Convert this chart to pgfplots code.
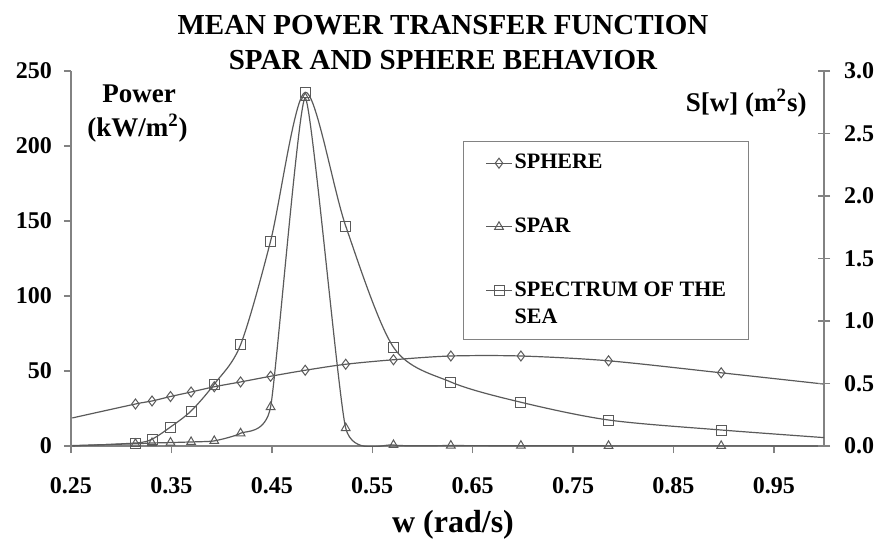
\documentclass[border=0pt]{standalone}
\usepackage{fontspec}
\setmainfont{Liberation Serif}
\usepackage{pgfplots}
\usepackage{pgfplotstable}
\pgfplotsset{compat=1.18}

\definecolor{axgray}{RGB}{130,130,130}
\definecolor{lngray}{RGB}{90,90,90}

% w = 2*pi/T, left axis: power (kW/m2)
\pgfplotstableread{
w     P
0.2513 18.7
0.3142 28.0
0.3307 30.0
0.3491 33.0
0.3696 36.0
0.3927 39.5
0.4189 42.7
0.4488 46.5
0.4833 50.5
0.5236 54.5
0.5712 57.5
0.6283 60.0
0.6981 60.0
0.7854 56.8
0.8976 48.8
1.0472 37.8
}\sphere

\pgfplotstableread{
w     P
0.2513 0.3
0.3142 1.5
0.3307 2.0
0.3491 2.3
0.3696 2.7
0.3927 3.4
0.4189 8.5
0.4488 26
0.4833 232
0.5236 12
0.5712 0.7
0.6283 0.3
0.6981 0.2
0.7854 0.1
0.8976 0.1
1.0472 0.0
}\spar

% right axis: S[w] (m2 s)
\pgfplotstableread{
w     S
0.2513 0.000
0.3142 0.024
0.3307 0.055
0.3491 0.152
0.3696 0.280
0.3927 0.495
0.4189 0.810
0.4488 1.640
0.4833 2.830
0.5236 1.760
0.5712 0.790
0.6283 0.512
0.6981 0.350
0.7854 0.208
0.8976 0.128
1.0472 0.040
}\spectrum

\pgfplotsset{
  base/.style={
    scale only axis, width=376.5pt, height=187.5pt,
    xmin=0.25, xmax=1.0,
    axis line style={axgray, line width=0.7pt},
    tick style={axgray, line width=0.7pt},
    ticklabel style={font=\bfseries\fontsize{12}{14}\selectfont},
    /pgf/number format/assume math mode=true,
    clip mode=individual,
  },
  sphst/.style={lngray, line width=0.6pt, mark=diamond, mark size=2.5pt, mark options={solid, line width=0.5pt}},
  sparst/.style={lngray, line width=0.6pt, mark=triangle, mark size=2.5pt, mark options={solid, line width=0.5pt}},
  specst/.style={lngray, line width=0.6pt, mark=square, mark size=2.5pt, mark options={solid, line width=0.5pt}},
}

\begin{document}
\begin{tikzpicture}
\useasboundingbox (-35.5pt,-47.5pt) rectangle (405.5pt,223pt);

\begin{axis}[
  base,
  ymin=0, ymax=250,
  axis x line*=bottom, axis y line*=left,
  tick align=outside, major tick length=3.5pt,
  xtick={0.25,0.35,0.45,0.55,0.65,0.75,0.85,0.95},
  ytick={0,50,100,150,200,250},
  xticklabel style={yshift=-8.5pt, /pgf/number format/.cd, fixed, fixed zerofill, precision=2},
  yticklabel style={xshift=-2.5pt},
  minor tick num=0,
]
\addplot[sphst, smooth, mark indices={2,...,15}] table[x=w, y=P] {\sphere};
\addplot[sparst, smooth, tension=0.3, mark indices={2,...,15}] table[x=w, y=P] {\spar};
\end{axis}

\begin{axis}[
  base,
  ymin=0, ymax=3,
  axis x line=none, axis y line*=right,
  ytick align=center, major tick length=6pt,
  ytick={0,0.5,1,1.5,2,2.5,3},
  yticklabel style={xshift=3.5pt, /pgf/number format/.cd, fixed, fixed zerofill, precision=1},
  legend image code/.code={\draw[mark repeat=2,mark phase=2,#1] plot coordinates {(0pt,0pt) (6.5pt,0pt) (13pt,0pt)};},
  legend style={at={(axis description cs:0.5206,0.8133)}, anchor=north west,
    draw=axgray, fill=white, inner xsep=11pt, inner ysep=6.5pt,
    row sep=23pt, column sep=1pt,
    nodes={inner sep=0pt}, cells={anchor=west},
    font=\bfseries\fontsize{11}{13.6}\selectfont},
]
\addlegendimage{sphst}
\addlegendentry{SPHERE}
\addlegendimage{sparst}
\addlegendentry{SPAR}
\addlegendimage{specst, yshift=6.8pt}
\addlegendentry[align=left]{SPECTRUM OF THE\\SEA}
\addplot[specst, smooth, mark indices={2,...,15}, forget plot] table[x=w, y=S] {\spectrum};
\end{axis}

\node[anchor=base, inner sep=0pt, font=\bfseries\fontsize{14.5}{17}\selectfont] at (186pt,205.5pt) {MEAN POWER TRANSFER FUNCTION};
\node[anchor=base, inner sep=0pt, font=\bfseries\fontsize{14.5}{17}\selectfont] at (186pt,188pt) {SPAR AND SPHERE BEHAVIOR};
\node[anchor=base, inner sep=0pt, font=\bfseries\fontsize{13.5}{16}\selectfont] at (34pt,171.5pt) {Power};
\node[anchor=base, inner sep=0pt, font=\bfseries\fontsize{13.5}{16}\selectfont] at (33.25pt,154.5pt) {(kW/m\textsuperscript{2})};
\node[anchor=base east, inner sep=0pt, font=\bfseries\fontsize{13.5}{16}\selectfont] at (368pt,167pt) {S[w] (m\textsuperscript{2}s)};
\node[anchor=base, inner sep=0pt, font=\bfseries\fontsize{16}{19}\selectfont] at (191pt,-43pt) {w (rad/s)};
\end{tikzpicture}
\end{document}
